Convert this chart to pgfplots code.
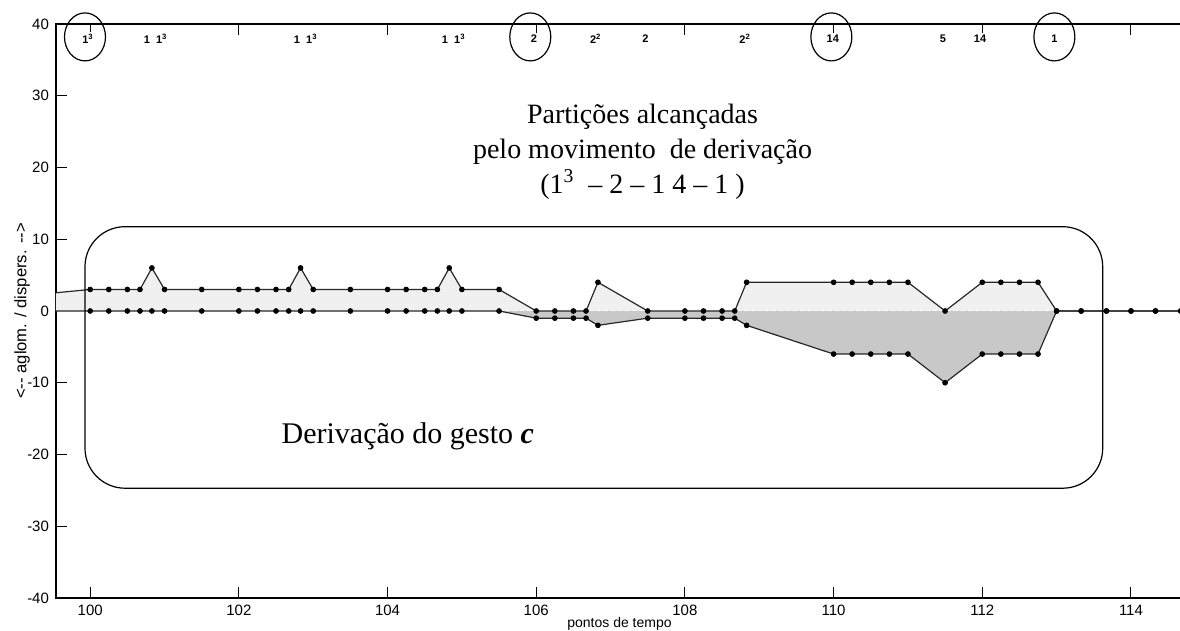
\documentclass[border=0pt]{standalone}
\usepackage{fontspec}
\setmainfont{Liberation Serif}
\newfontfamily\arialf{Liberation Sans}
\usepackage{pgfplots}
\usepackage{pgfplotstable}
\pgfplotsset{compat=1.18}
\definecolor{lightfill}{RGB}{240,240,240}
\definecolor{darkfill}{RGB}{200,200,200}
\definecolor{lc}{RGB}{40,40,40}

\pgfplotstableread{
x a b
99.4 2.4 0
100 3 0
100.25 3 0
100.5 3 0
100.67 3 0
100.83 6 0
101 3 0
101.5 3 0
102 3 0
102.25 3 0
102.5 3 0
102.67 3 0
102.83 6 0
103 3 0
103.5 3 0
104 3 0
104.25 3 0
104.5 3 0
104.67 3 0
104.83 6 0
105 3 0
105.5 3 0
106 0 -1
106.25 0 -1
106.5 0 -1
106.67 0 -1
106.83 4 -2
107.5 0 -1
108 0 -1
108.25 0 -1
108.5 0 -1
108.67 0 -1
108.83 4 -2
110 4 -6
110.25 4 -6
110.5 4 -6
110.75 4 -6
111 4 -6
111.5 0 -10
112 4 -6
112.25 4 -6
112.5 4 -6
112.75 4 -6
113 0 0
113.33 0 0
113.67 0 0
114 0 0
114.33 0 0
114.67 0 0
}\data

\begin{document}
\begin{tikzpicture}
\begin{axis}[
  at={(0,0)}, anchor=south west,
  scale only axis, width=563.5pt, height=287pt,
  xmin=99.54, xmax=114.7, ymin=-40, ymax=40,
  xtick={100,102,...,114}, ytick={-40,-30,...,40},
  tick align=inside, major tick length=5.5pt,
  ytick pos=left, xtick pos=both,
  tick style={black, line width=0.5pt},
  axis line style={black, line width=0.6pt},
  /pgf/number format/assume math mode=true,
  ticklabel style={font=\arialf\fontsize{7.5}{9}\selectfont},
  xlabel={pontos de tempo}, ylabel={<-{}- aglom. / dispers. -{}->},
  x label style={font=\arialf\fontsize{7}{8}\selectfont, at={(axis description cs:0.5,-0.0453)},anchor=center},
  y label style={font=\arialf\fontsize{8.3}{9}\selectfont, at={(axis description cs:-0.0302,0.5)},anchor=center},
  clip mode=individual,
]
\addplot[fill=lightfill, draw=none] table[x=x,y=a] {\data} \closedcycle;
\addplot[fill=darkfill, draw=none] table[x=x,y=b] {\data} \closedcycle;
\addplot[white, line width=0.5pt, dash pattern=on 2pt off 1.5pt] coordinates {(105.5,0) (113,0)};
\addplot[lc, line width=0.6pt] table[x=x,y=a] {\data};
\addplot[lc, line width=0.6pt] table[x=x,y=b] {\data};
\addplot[only marks, mark=*, mark size=1.2pt, mark options={black, fill=black}, skip coords between index={0}{1}] table[x=x,y=a] {\data};
\addplot[only marks, mark=*, mark size=1.2pt, mark options={black, fill=black}, skip coords between index={0}{1}] table[x=x,y=b] {\data};

% top partition labels
\begin{scope}[every node/.style={font=\arialf\bfseries\fontsize{5.5}{6}\selectfont, fill=white, inner sep=0.8pt}]
\node at (axis cs:99.97,38) {1\textsuperscript{3}};
\node at (axis cs:100.88,38) {1~~1\textsuperscript{3}};
\node at (axis cs:102.9,38) {1~~1\textsuperscript{3}};
\node at (axis cs:104.89,38) {1~~1\textsuperscript{3}};
\node at (axis cs:105.97,38) {2};
\node at (axis cs:106.8,38) {2\textsuperscript{2}};
\node at (axis cs:107.47,38) {2};
\node at (axis cs:108.81,38) {2\textsuperscript{2}};
\node at (axis cs:109.99,38) {14};
\node at (axis cs:111.47,38) {5};
\node at (axis cs:111.97,38) {14};
\node at (axis cs:112.97,38) {1};
\end{scope}
\draw[line width=0.6pt] (axis cs:99.93,38.2) ellipse [x radius=10.25pt, y radius=12pt];
\draw[line width=0.6pt] (axis cs:105.92,38.2) ellipse [x radius=10.25pt, y radius=12pt];
\draw[line width=0.6pt] (axis cs:109.97,38.2) ellipse [x radius=10.25pt, y radius=12pt];
\draw[line width=0.6pt] (axis cs:112.97,38.2) ellipse [x radius=10.25pt, y radius=12pt];

% rounded frame
\draw[line width=0.6pt, rounded corners=20pt] (axis cs:99.93,11.75) rectangle (axis cs:113.62,-24.7);

\node[align=center, font=\fontsize{14}{17.5}\selectfont] at (axis cs:107.43,22.2)
  {Partições alcançadas\\pelo movimento \ de derivação\\(1\textsuperscript{3} \ – 2 – 1 4 – 1 )};
\node[anchor=west, inner sep=0pt, font=\fontsize{15}{18}\selectfont] at (axis cs:102.57,-17.5)
  {Derivação do gesto \textbf{\textit{c}}};
\end{axis}
\pgfresetboundingbox
\path[use as bounding box] (-28pt,-16.5pt) rectangle (562pt,299pt);
\end{tikzpicture}
\end{document}
